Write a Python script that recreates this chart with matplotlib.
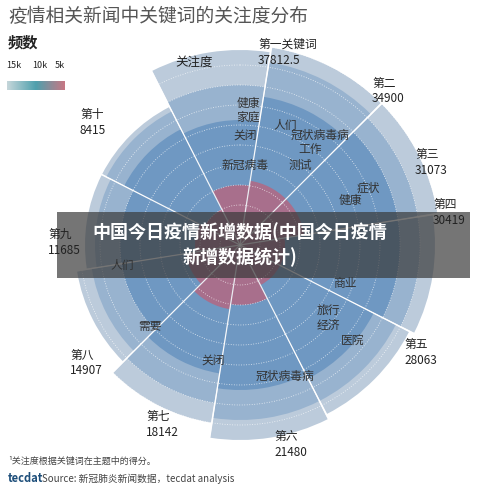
import numpy as np
import matplotlib
matplotlib.use("Agg")
import matplotlib.pyplot as plt
from matplotlib.colors import LinearSegmentedColormap

plt.rcParams['font.family'] = ['Noto Sans CJK SC', 'DejaVu Sans']

sectors = ["第一关键词", "第二", "第三", "第四", "第五", "第六", "第七", "第八", "第九", "第十"]
attention = ["37812.5", "34900", "31073", "30419", "28063", "21480", "18142", "14907", "11685", "8415"]
# ring frequencies per sector (outer light -> inner)
ring1 = [39000, 40000, 40000, 39000, 38000, 39000, 36000, 33000, 31000, 31000]
ring2 = [32000, 37000, 36000, 36000, 35000, 35000, 32000, 30000, 29000, 30000]
ring3 = [25000, 30000, 32000, 32000, 30000, 29000, 26000, 24000, 24000, 26000]
ring4 = [12000, 13000, 13000, 9000, 9000, 12000, 13000, 11000, 9000, 8000]
label_px = [(258, 52), (372, 91), (415, 162), (433, 212), (404, 352),
            (274, 444), (146, 424), (70, 363), (48, 242), (80, 122)]

W, H = 500, 492
fig = plt.figure(figsize=(5, 4.92), dpi=100)
fig.patch.set_facecolor("white")
cx, cy, R = 240, 245, 200
ax = fig.add_axes([(cx - R) / W, (H - cy - R) / H, 2 * R / W, 2 * R / H], projection="polar")
ax.set_theta_zero_location("N")
ax.set_theta_direction(-1)
ax.set_ylim(0, 40000)
ax.axis("off")

n = len(sectors)
width = 2 * np.pi / n
start = np.deg2rad(-27)
thetas = start + width * (np.arange(n) + 0.5)
colors = ["#bccbdb", "#98b3cf", "#6f98c2", "#a86f8c"]
for vals, c in zip([ring1, ring2, ring3, ring4], colors):
    ax.bar(thetas, vals, width=width * 0.985, color=c, edgecolor="none", align="center")
for r in np.arange(4000, 40001, 4000):
    t = np.linspace(0, 2 * np.pi, 400)
    ax.plot(t, np.full_like(t, r), color="white", lw=0.6, ls=(0, (1, 2)), alpha=0.8)
for k in range(n):
    a = start + width * k
    ax.plot([a, a], [0, 40000], color="white", lw=0.9, alpha=0.8)

for (x, y), s, v in zip(label_px, sectors, attention):
    fig.text(x / W, 1 - y / H, s + "\n" + v, fontsize=8.5, color="#222", ha="left", va="center", linespacing=1.3)
fig.text(175 / W, 1 - 62 / H, "关注度", fontsize=9, color="#222", va="center")

words = [("健康\n家庭", 248, 110), ("关闭", 245, 135), ("人们", 285, 125), ("冠状病毒病", 320, 135),
         ("工作", 310, 150), ("测试", 300, 165), ("新冠病毒", 245, 165), ("症状", 368, 188),
         ("健康", 350, 200), ("商业", 345, 283), ("旅行\n经济", 328, 318), ("医院", 353, 340),
         ("冠状病毒病", 285, 376), ("关闭", 213, 360), ("需要", 150, 326), ("人们", 122, 265)]
for s, x, y in words:
    fig.text(x / W, 1 - y / H, s, fontsize=8.5, color="#333", ha="center", va="center", linespacing=1.1)

fig.text(8 / W, 1 - 17 / H, "疫情相关新闻中关键词的关注度分布", fontsize=13.5, color="#555", va="center")
fig.text(8 / W, 1 - 43 / H, "频数", fontsize=11, color="#222", va="center", weight="bold")
for s, x in [("15k", 6), ("10k", 32), ("5k", 55)]:
    fig.text(x / W, 1 - 65 / H, s, fontsize=6.5, color="#222", va="center")
cax = fig.add_axes([7 / W, 1 - 90 / H, 58 / W, 9 / H])
cmap = LinearSegmentedColormap.from_list("c", ["#c5d6da", "#4fa0ad", "#c77784"])
cax.imshow(np.linspace(0, 1, 100)[None, :], aspect="auto", cmap=cmap)
cax.axis("off")

# banner overlay
fig.patches.append(plt.Rectangle((57 / W, 1 - 278 / H), 413 / W, 66 / H, transform=fig.transFigure,
                                 facecolor="#3a3a3a", alpha=0.7, edgecolor="none"))
fig.text(240 / W, 1 - 245 / H, "中国今日疫情新增数据(中国今日疫情\n新增数据统计)", fontsize=13,
         color="white", weight="bold", ha="center", va="center", linespacing=1.35)

fig.text(8 / W, 1 - 461 / H, "¹关注度根据关键词在主题中的得分。", fontsize=6.5, color="#444", va="center")
fig.text(8 / W, 1 - 479 / H, "tecdat", fontsize=8, color="#1d4e7a", weight="bold", va="center")
fig.text(42 / W, 1 - 479 / H, "Source: 新冠肺炎新闻数据，tecdat analysis", fontsize=7, color="#444", va="center")

fig.savefig("out.png", dpi=100)
